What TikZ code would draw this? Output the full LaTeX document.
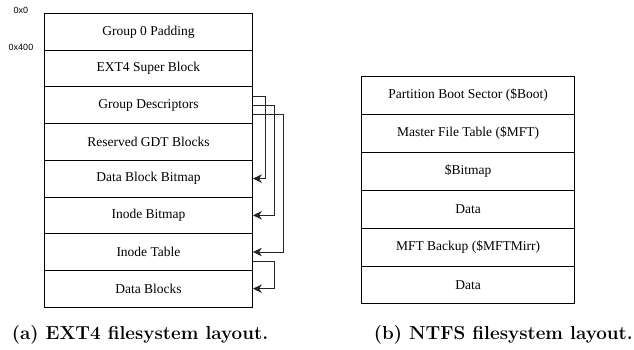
\documentclass[tikz,border=0pt]{standalone}
\usepackage{fontspec}
\newfontfamily\tnr{Liberation Serif}
\newfontfamily\arl{Liberation Sans}
\usetikzlibrary{arrows.meta}
\begin{document}
\begin{tikzpicture}[x=1pt,y=-1pt,
  extrow/.style={draw=black,line width=0.9pt,minimum width=208pt,minimum height=36.7pt,inner sep=0pt,anchor=north west,font=\tnr\fontsize{13.5}{15}\selectfont},
  ntrow/.style={draw=black,line width=0.9pt,minimum width=213.3pt,minimum height=37.9pt,inner sep=0pt,anchor=north west,font=\tnr\fontsize{13.5}{15}\selectfont},
  addr/.style={font=\arl\fontsize{9}{10}\selectfont,inner sep=0pt},
  capt/.style={font=\bfseries\fontsize{18.8}{21}\selectfont,inner sep=0pt},
  arr/.style={draw=black!85,line width=0.9pt,-{Stealth[length=9pt,width=8.5pt,inset=2.8pt]}}]
\useasboundingbox (0,0) rectangle (634,350);
% EXT4
\node[extrow] (gp)  at (44,13)    {Group 0 Padding};
\node[extrow] (sb)  at (44,49.7)  {EXT4 Super Block};
\node[extrow] (gd)  at (44,86.4)  {Group Descriptors};
\node[extrow] (rg)  at (44,123.1) {Reserved GDT Blocks};
\node[extrow] (dbb) at (44,159.8) {Data Block Bitmap};
\node[extrow] (ib)  at (44,196.5) {Inode Bitmap};
\node[extrow] (it)  at (44,233.2) {Inode Table};
\node[extrow] (db)  at (44,269.9) {Data Blocks};
\node[addr] (a0) at (21,10) {0x0};
\node[addr] (a1) at (21,47) {0x400};
% arrows
\draw[arr] ([yshift=9pt]gd.east) -- ++(12.3pt,0) |- (dbb.east);
\draw[arr] (gd.east) -- ++(21.7pt,0) |- (ib.east);
\draw[arr] ([yshift=-9pt]gd.east) -- ++(30.7pt,0) |- (it.east);
\draw[arr] ([yshift=-9pt]it.east) -- ++(21.7pt,0) |- (db.east);
% NTFS
\node[ntrow] (pbs) at (361,76)    {Partition Boot Sector (\$Boot)};
\node[ntrow] (mft) at (361,113.9) {Master File Table (\$MFT)};
\node[ntrow] (bm)  at (361,151.8) {\$Bitmap};
\node[ntrow] (d1)  at (361,189.7) {Data};
\node[ntrow] (mb)  at (361,227.6) {MFT Backup (\$MFTMirr)};
\node[ntrow] (d2)  at (361,265.5) {Data};
% captions
\node[capt,anchor=base] (ca) at (140,339) {(a) EXT4 filesystem layout.};
\node[capt,anchor=base east] (cb) at (633,339) {(b) NTFS filesystem layout.};
\end{tikzpicture}
\end{document}
